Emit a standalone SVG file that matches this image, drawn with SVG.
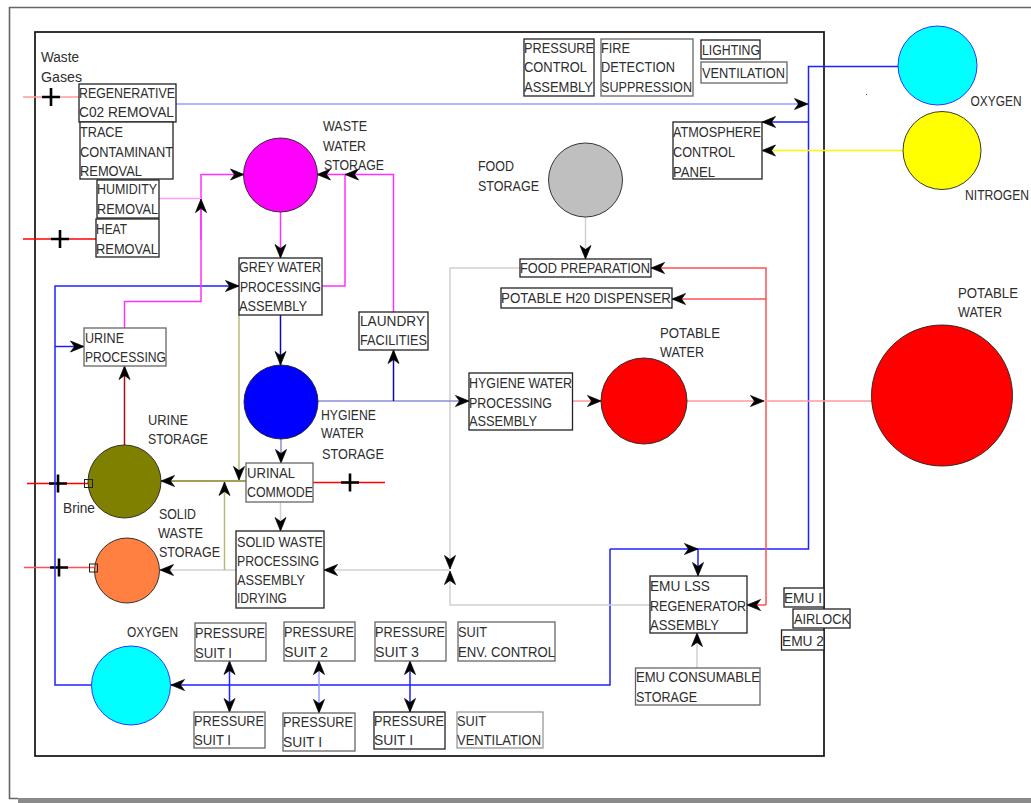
<svg xmlns="http://www.w3.org/2000/svg" width="1031" height="803" viewBox="0 0 1031 803">
<style>
text{font-family:"Liberation Sans",Arial,sans-serif;font-size:15.5px;fill:#2e2e2e}
.b{fill:#fff;stroke:#222;stroke-width:1.3}
.g{fill:#fff;stroke:#666;stroke-width:1.3}
.c{stroke:#222;stroke-width:.9}
.l{fill:none;stroke-width:1.5;marker-end:url(#ah)}
.n{fill:none;stroke-width:1.5}
.blue{stroke:#2020ff}.pblue{stroke:#9a9aff}.dblue{stroke:#0a0ab0}.slate{stroke:#8c8cd8}
.red{stroke:#f00}.pred{stroke:#ff9a9a}.mred{stroke:#ff5050}.dred{stroke:#a01010}
.mag{stroke:#ff30ff}.pmag{stroke:#ff9cff}.grey{stroke:#d0d0d0}.khaki{stroke:#b8b878}.olive{stroke:#808020}.yel{stroke:#f8f800}
.x{stroke:#000;stroke-width:2.6;fill:none}
</style>
<defs>
<marker id="ah" markerUnits="userSpaceOnUse" markerWidth="18" markerHeight="16" refX="15" refY="8" orient="auto"><path d="M15 8L1.5 2.5L5.5 8L1.5 13.5Z" fill="#000" stroke="#000" stroke-width=".7" stroke-linejoin="miter"/></marker>
<marker id="ahs" markerUnits="userSpaceOnUse" markerWidth="18" markerHeight="16" refX="15" refY="8" orient="auto-start-reverse"><path d="M15 8L1.5 2.5L5.5 8L1.5 13.5Z" fill="#000" stroke="#000" stroke-width=".7" stroke-linejoin="miter"/></marker>
<path id="plus" d="M-9 0H9M0-9V9"/>
</defs>
<rect width="1031" height="803" fill="#fff"/>
<g id="frame">
<path d="M9.5 799V7.5H1031" fill="none" stroke="#666" stroke-width="1.6"/>
<rect x="18" y="798" width="1013" height="5" fill="#8a8a8a"/>
<path d="M9 798.5H18" stroke="#666" stroke-width="1.5"/>
<rect x="35" y="32" width="789" height="724" fill="none" stroke="#111" stroke-width="1.7"/>
<rect x="866" y="94" width="1" height="1" fill="#555"/>
</g>
<g id="connectors">
<path class="n pred" d="M23 97H79"/><use href="#plus" class="x" x="51" y="97"/>
<path class="n red" d="M23 239H96"/><use href="#plus" class="x" x="60" y="239"/>
<path class="n red" d="M27 483.5H88"/><use href="#plus" class="x" x="58" y="483.5"/>
<path class="n mred" d="M24 567.5H94"/><use href="#plus" class="x" x="59" y="567.5"/>
<path class="n red" d="M313 482.5H385"/><use href="#plus" class="x" x="350" y="482.5"/>
<path class="l pblue" d="M176 104H808"/>
<path class="n blue" d="M898 66.5H808.5V549H698"/>
<path class="l blue" d="M808.5 122H762"/>
<path class="l yel" d="M903 150.5H762"/>
<path class="l blue" d="M698 549V576"/>
<path class="l blue" d="M610 549H698"/>
<path class="l blue" d="M610 549V685H171"/>
<path class="l blue" d="M92 685H55V286H239"/>
<path class="l blue" d="M55 346.5H84"/>
<path class="l mred" d="M766 605V268H651"/>
<path class="l mred" d="M766 299H672"/>
<path class="l mred" d="M766 605H747"/>
<path class="l grey" d="M520 268H450V569"/>
<path class="l grey" d="M650 605H450V571"/>
<path class="l grey" d="M450 570H324"/>
<path class="l grey" d="M236 570H160"/>
<path class="l khaki" d="M224.5 570V482"/>
<path class="l olive" d="M246 481H161"/>
<path class="l khaki" d="M239 315V480"/>
<path class="l mag" d="M280.5 212V258"/>
<path class="l mag" d="M322 286H345V174.5H317"/>
<path class="l mag" d="M393.5 312V174.5H345"/>
<path class="l mag" d="M124.5 328V301.5H201V174.5H244"/>
<path class="n pmag" d="M159 198.5H201"/>
<path class="l mag" d="M201 240V199"/>
<path class="l dblue" d="M280.5 315V365"/>
<path class="l slate" d="M281 439V463"/>
<path class="l grey" d="M280.5 502V531"/>
<path class="l slate" d="M318 401H469"/>
<path class="l dblue" d="M393.5 401V350"/>
<path class="l dred" d="M124.5 445V366"/>
<path class="l pred" d="M572 401H601"/>
<path class="l pred" d="M687 401H764"/>
<path class="n pred" d="M764 401H872"/>
<path class="l grey" d="M697 668V633"/>
<path class="l grey" d="M585.5 217V259"/>
<path class="n blue" d="M229.5 661V712" style="marker-start:url(#ahs);marker-end:url(#ahs)"/>
<path class="n pblue" d="M319 661V713" style="marker-start:url(#ahs);marker-end:url(#ahs)"/>
<path class="n blue" d="M410 661V712" style="marker-start:url(#ahs);marker-end:url(#ahs)"/>
</g>
<g id="waste-gases"><text x="41" y="62" textLength="38" lengthAdjust="spacingAndGlyphs">Waste</text><text x="41" y="82" textLength="41" lengthAdjust="spacingAndGlyphs">Gases</text></g>
<g id="regen-co2"><rect class="b" x="79" y="84" width="97" height="38"/><text x="79" y="98" textLength="96" lengthAdjust="spacingAndGlyphs">REGENERATIVE</text><text x="79" y="117" textLength="95" lengthAdjust="spacingAndGlyphs">C02 REMOVAL</text></g>
<g id="trace"><rect class="b" x="80" y="122" width="93" height="57"/><text x="80" y="137" textLength="43" lengthAdjust="spacingAndGlyphs">TRACE</text><text x="80" y="157" textLength="93" lengthAdjust="spacingAndGlyphs">CONTAMINANT</text><text x="80" y="176" textLength="62" lengthAdjust="spacingAndGlyphs">REMOVAL</text></g>
<g id="humidity"><rect class="b" x="97" y="180" width="62" height="38"/><text x="97" y="194" textLength="60" lengthAdjust="spacingAndGlyphs">HUMIDITY</text><text x="97" y="214" textLength="61" lengthAdjust="spacingAndGlyphs">REMOVAL</text></g>
<g id="heat"><rect class="b" x="96" y="219" width="63" height="38"/><text x="96" y="234" textLength="31" lengthAdjust="spacingAndGlyphs">HEAT</text><text x="96" y="254" textLength="62" lengthAdjust="spacingAndGlyphs">REMOVAL</text></g>
<g id="waste-water-storage"><circle class="c" cx="280.5" cy="175" r="37" fill="#f0f"/><text x="323" y="131" textLength="44" lengthAdjust="spacingAndGlyphs">WASTE</text><text x="323" y="151" textLength="43" lengthAdjust="spacingAndGlyphs">WATER</text><text x="324" y="170" textLength="60" lengthAdjust="spacingAndGlyphs">STORAGE</text></g>
<g id="grey-water"><rect class="b" x="239" y="258" width="83" height="57"/><text x="239" y="272" textLength="82" lengthAdjust="spacingAndGlyphs">GREY WATER</text><text x="240" y="292" textLength="81" lengthAdjust="spacingAndGlyphs">PROCESSING</text><text x="239" y="311" textLength="68" lengthAdjust="spacingAndGlyphs">ASSEMBLY</text></g>
<g id="urine-processing"><rect class="g" x="84" y="328" width="82" height="38"/><text x="85" y="343" textLength="39" lengthAdjust="spacingAndGlyphs">URINE</text><text x="85" y="362" textLength="81" lengthAdjust="spacingAndGlyphs">PROCESSING</text></g>
<g id="laundry"><rect class="b" x="359" y="312" width="69" height="38"/><text x="360" y="326" textLength="65" lengthAdjust="spacingAndGlyphs">LAUNDRY</text><text x="360" y="345" textLength="67" lengthAdjust="spacingAndGlyphs">FACILITIES</text></g>
<g id="hygiene-water-storage"><circle class="c" cx="281" cy="402" r="37" fill="#00f"/><text x="321" y="420" textLength="55" lengthAdjust="spacingAndGlyphs">HYGIENE</text><text x="321" y="438" textLength="43" lengthAdjust="spacingAndGlyphs">WATER</text><text x="322" y="459" textLength="62" lengthAdjust="spacingAndGlyphs">STORAGE</text></g>
<g id="urine-storage"><circle class="c" cx="124.5" cy="481.5" r="36.5" fill="#808000"/><rect x="84.5" y="479.5" width="8" height="8" fill="none" stroke="#222"/><text x="148" y="425" textLength="40" lengthAdjust="spacingAndGlyphs">URINE</text><text x="148" y="444" textLength="60" lengthAdjust="spacingAndGlyphs">STORAGE</text><text x="63" y="513" textLength="32" lengthAdjust="spacingAndGlyphs">Brine</text></g>
<g id="urinal"><rect class="g" x="246" y="463" width="67" height="39"/><text x="247" y="478" textLength="48" lengthAdjust="spacingAndGlyphs">URINAL</text><text x="247" y="497" textLength="66" lengthAdjust="spacingAndGlyphs">COMMODE</text></g>
<g id="solid-waste-storage"><circle class="c" cx="127" cy="570.5" r="32.5" fill="#ff8040"/><rect x="89.5" y="564" width="8" height="8" fill="none" stroke="#222"/><text x="159" y="519" textLength="37" lengthAdjust="spacingAndGlyphs">SOLID</text><text x="158" y="538" textLength="45" lengthAdjust="spacingAndGlyphs">WASTE</text><text x="159" y="557" textLength="61" lengthAdjust="spacingAndGlyphs">STORAGE</text></g>
<g id="solid-waste-processing"><rect class="b" x="236" y="531" width="88" height="77"/><text x="237" y="547" textLength="86" lengthAdjust="spacingAndGlyphs">SOLID WASTE</text><text x="237" y="566" textLength="82" lengthAdjust="spacingAndGlyphs">PROCESSING</text><text x="237" y="585" textLength="68" lengthAdjust="spacingAndGlyphs">ASSEMBLY</text><text x="237" y="603" textLength="50" lengthAdjust="spacingAndGlyphs">IDRYING</text></g>
<g id="oxygen-inner"><circle cx="131" cy="685.5" r="39.5" fill="#0ff" stroke="#2020ff" stroke-width=".9"/><text x="127" y="637" textLength="51" lengthAdjust="spacingAndGlyphs">OXYGEN</text></g>
<g id="suit-1"><rect class="g" x="195" y="623" width="71" height="38"/><text x="195" y="638" textLength="70" lengthAdjust="spacingAndGlyphs">PRESSURE</text><text x="195" y="658" textLength="37" lengthAdjust="spacingAndGlyphs">SUIT I</text></g>
<g id="suit-2"><rect class="g" x="284" y="622" width="71" height="39"/><text x="284" y="637" textLength="70" lengthAdjust="spacingAndGlyphs">PRESSURE</text><text x="284" y="657" textLength="44" lengthAdjust="spacingAndGlyphs">SUIT 2</text></g>
<g id="suit-3"><rect class="g" x="375" y="622" width="71" height="39"/><text x="375" y="637" textLength="70" lengthAdjust="spacingAndGlyphs">PRESSURE</text><text x="375" y="657" textLength="44" lengthAdjust="spacingAndGlyphs">SUIT 3</text></g>
<g id="suit-env"><rect class="g" x="458" y="622" width="97" height="39"/><text x="458" y="637" textLength="29" lengthAdjust="spacingAndGlyphs">SUIT</text><text x="458" y="657" textLength="97" lengthAdjust="spacingAndGlyphs">ENV. CONTROL</text></g>
<g id="suit-1b"><rect class="g" x="194" y="712" width="71" height="36"/><text x="194" y="726" textLength="70" lengthAdjust="spacingAndGlyphs">PRESSURE</text><text x="194" y="745" textLength="37" lengthAdjust="spacingAndGlyphs">SUIT I</text></g>
<g id="suit-2b"><rect class="g" x="283" y="713" width="72" height="38"/><text x="283" y="727" textLength="70" lengthAdjust="spacingAndGlyphs">PRESSURE</text><text x="283" y="747" textLength="39" lengthAdjust="spacingAndGlyphs">SUIT I</text></g>
<g id="suit-3b"><rect class="b" x="374" y="712" width="71" height="37"/><text x="374" y="726" textLength="70" lengthAdjust="spacingAndGlyphs">PRESSURE</text><text x="374" y="745" textLength="39" lengthAdjust="spacingAndGlyphs">SUIT I</text></g>
<g id="suit-vent"><rect class="g" x="457" y="712" width="86" height="36" style="stroke:#999"/><text x="457" y="726" textLength="29" lengthAdjust="spacingAndGlyphs">SUIT</text><text x="457" y="745" textLength="84" lengthAdjust="spacingAndGlyphs">VENTILATION</text></g>
<g id="pressure-control"><rect class="b" x="524" y="39" width="70" height="57"/><text x="524" y="53" textLength="70" lengthAdjust="spacingAndGlyphs">PRESSURE</text><text x="524" y="72" textLength="63" lengthAdjust="spacingAndGlyphs">CONTROL</text><text x="524" y="92" textLength="69" lengthAdjust="spacingAndGlyphs">ASSEMBLY</text></g>
<g id="fire"><rect class="g" x="601" y="39" width="92" height="57"/><text x="601" y="53" textLength="29" lengthAdjust="spacingAndGlyphs">FIRE</text><text x="601" y="72" textLength="74" lengthAdjust="spacingAndGlyphs">DETECTION</text><text x="601" y="92" textLength="91" lengthAdjust="spacingAndGlyphs">SUPPRESSION</text></g>
<g id="lighting"><rect class="b" x="701" y="40" width="59" height="19"/><text x="702" y="55" textLength="58" lengthAdjust="spacingAndGlyphs">LIGHTING</text></g>
<g id="ventilation"><rect class="g" x="701" y="62" width="86" height="21"/><text x="702" y="78" textLength="83" lengthAdjust="spacingAndGlyphs">VENTILATION</text></g>
<g id="atmosphere"><rect class="b" x="673" y="122" width="89" height="57"/><text x="673" y="137" textLength="88" lengthAdjust="spacingAndGlyphs">ATMOSPHERE</text><text x="673" y="157" textLength="62" lengthAdjust="spacingAndGlyphs">CONTROL</text><text x="673" y="177" textLength="42" lengthAdjust="spacingAndGlyphs">PANEL</text></g>
<g id="food-storage"><circle class="c" cx="585.5" cy="180" r="37" fill="#bfbfbf"/><text x="478" y="171" textLength="36" lengthAdjust="spacingAndGlyphs">FOOD</text><text x="478" y="191" textLength="61" lengthAdjust="spacingAndGlyphs">STORAGE</text></g>
<g id="food-prep"><rect class="b" x="520" y="259" width="131" height="18"/><text x="520" y="273" textLength="130" lengthAdjust="spacingAndGlyphs">FOOD PREPARATION</text></g>
<g id="h2o-dispenser"><rect class="b" x="501" y="288" width="171" height="20"/><text x="501" y="303" textLength="170" lengthAdjust="spacingAndGlyphs">POTABLE H20 DISPENSER</text></g>
<g id="hygiene-processing"><rect class="b" x="469" y="373" width="103.5" height="57"/><text x="469" y="388" textLength="103" lengthAdjust="spacingAndGlyphs">HYGIENE WATER</text><text x="469" y="408" textLength="83" lengthAdjust="spacingAndGlyphs">PROCESSING</text><text x="469" y="426" textLength="68" lengthAdjust="spacingAndGlyphs">ASSEMBLY</text></g>
<g id="potable-inner"><circle class="c" cx="644" cy="401" r="43" fill="#f00"/><text x="660" y="338" textLength="60" lengthAdjust="spacingAndGlyphs">POTABLE</text><text x="660" y="357" textLength="44" lengthAdjust="spacingAndGlyphs">WATER</text></g>
<g id="emu-lss"><rect class="b" x="650" y="576" width="97" height="57"/><text x="650" y="591" textLength="60" lengthAdjust="spacingAndGlyphs">EMU LSS</text><text x="650" y="611" textLength="96" lengthAdjust="spacingAndGlyphs">REGENERATOR</text><text x="650" y="630" textLength="69" lengthAdjust="spacingAndGlyphs">ASSEMBLY</text></g>
<g id="emu-consumable"><rect class="g" x="635.5" y="668" width="124.5" height="37"/><text x="636" y="682" textLength="124" lengthAdjust="spacingAndGlyphs">EMU CONSUMABLE</text><text x="636" y="702" textLength="61" lengthAdjust="spacingAndGlyphs">STORAGE</text></g>
<g id="emu-1"><rect class="b" x="784" y="588" width="40" height="19"/><text x="784" y="603" textLength="38" lengthAdjust="spacingAndGlyphs">EMU I</text></g>
<g id="airlock"><rect class="b" x="793" y="609" width="57" height="19"/><text x="794" y="624" textLength="56" lengthAdjust="spacingAndGlyphs">AIRLOCK</text></g>
<g id="emu-2"><rect class="b" x="781.5" y="630" width="42.5" height="20"/><text x="782" y="646" textLength="42" lengthAdjust="spacingAndGlyphs">EMU 2</text></g>
<g id="oxygen-tank"><circle cx="937.5" cy="65.5" r="39.5" fill="#0ff" stroke="#2020ff" stroke-width=".9"/><text x="970.5" y="106" textLength="51" lengthAdjust="spacingAndGlyphs">OXYGEN</text></g>
<g id="nitrogen-tank"><circle class="c" cx="942" cy="150.5" r="39" fill="#ff0"/><text x="965" y="200" textLength="64" lengthAdjust="spacingAndGlyphs">NITROGEN</text></g>
<g id="potable-tank"><circle class="c" cx="942" cy="395.5" r="70.5" fill="#f00"/><text x="958" y="298" textLength="60" lengthAdjust="spacingAndGlyphs">POTABLE</text><text x="958" y="317" textLength="44" lengthAdjust="spacingAndGlyphs">WATER</text></g>
</svg>
